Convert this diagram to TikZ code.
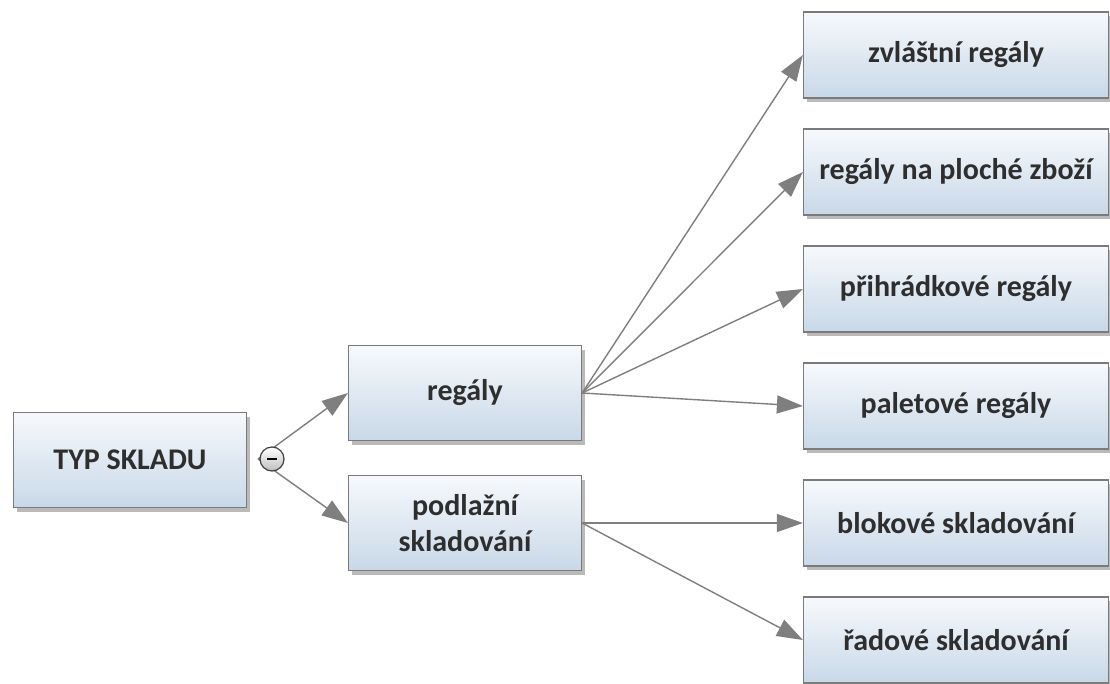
\documentclass[tikz,border=0pt]{standalone}
\usepackage{fontspec}
\setmainfont{Carlito}
\usetikzlibrary{arrows.meta,shadows}
\definecolor{boxtop}{HTML}{F7F9FC}
\definecolor{boxbot}{HTML}{C8D8E8}
\definecolor{boxline}{HTML}{7A7A7A}
\definecolor{txt}{HTML}{2E2E2E}
\definecolor{arr}{HTML}{7F7F7F}
\tikzset{
  box/.style={draw=boxline, line width=1.2pt, top color=boxtop, bottom color=boxbot,
    font=\bfseries\fontsize{30}{36}\selectfont, text=txt, align=center,
    drop shadow={shadow xshift=3pt, shadow yshift=-4pt, fill=black!45, opacity=0.6}},
  lbox/.style={box, minimum width=233pt, minimum height=95pt},
  rbox/.style={box, minimum width=305pt, minimum height=86pt},
  conn/.style={draw=arr, line width=1.4pt, -{Triangle[length=26pt,width=18pt]}},
  minus/.style={circle, draw=black!75, line width=1.2pt, top color=white, bottom color=black!25, minimum size=24pt, inner sep=0pt}
}
\begin{document}
\begin{tikzpicture}[x=1pt,y=-1pt]
\useasboundingbox (0,0) rectangle (1110,684);
\node[lbox] (typ) at (130,460) {TYP SKLADU};
\node[lbox] (reg) at (465,393) {regály};
\node[lbox] (pod) at (465,523) {podlažní\\skladování};
\node[rbox] (r1) at (956,55) {zvláštní regály};
\node[rbox] (r2) at (956,172) {regály na ploché zboží};
\node[rbox] (r3) at (956,289) {přihrádkové regály};
\node[rbox] (r4) at (956,406) {paletové regály};
\node[rbox] (r5) at (956,523) {blokové skladování};
\node[rbox] (r6) at (956,640) {řadové skladování};
\coordinate (src) at (258,459);
\draw[conn] (src) -- (reg.west);
\draw[conn] (src) -- (pod.west);
\node[minus] (mc) at (272,459) {};
\draw[black, line width=2.5pt] ([xshift=-5pt]mc.center) -- ([xshift=5pt]mc.center);
\foreach \t in {r1,r2,r3,r4} \draw[conn] (reg.east) -- (\t.west);
\foreach \t in {r5,r6} \draw[conn] (pod.east) -- (\t.west);
\end{tikzpicture}
\end{document}
